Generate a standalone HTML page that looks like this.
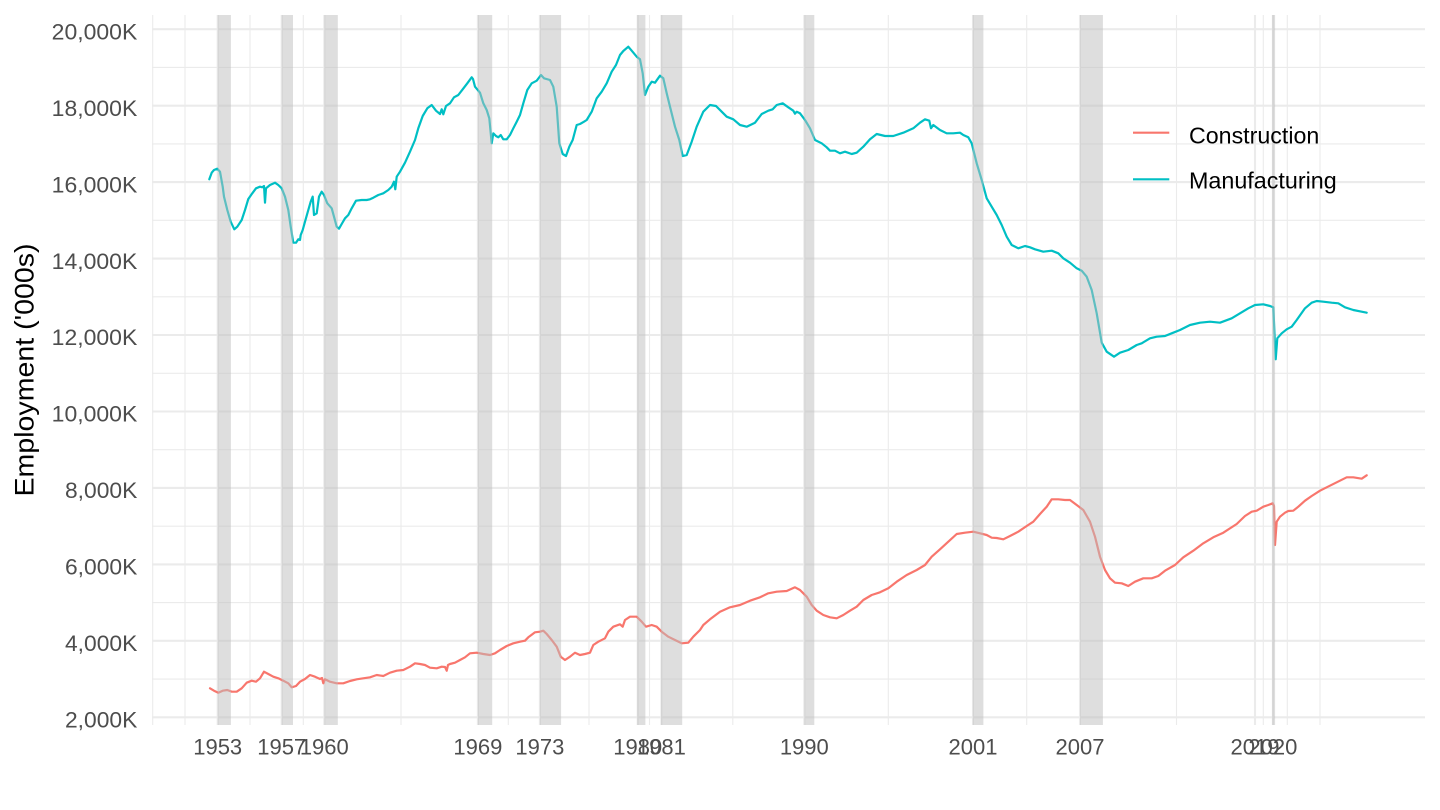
<!DOCTYPE html>
<html>
<head>
<meta charset="utf-8">
<style>
html,body{margin:0;padding:0;background:#fff;}
svg{display:block;}
text{font-family:"Liberation Sans",Arial,Helvetica,sans-serif;}
</style>
</head>
<body>
<svg width="1440" height="810" viewBox="0 0 1440 810" xmlns="http://www.w3.org/2000/svg">
<rect x="0" y="0" width="1440" height="810" fill="#ffffff"/>

<!-- minor horizontal gridlines -->
<g stroke="#EBEBEB" stroke-width="1.1" fill="none">
<line x1="152" x2="1425" y1="679.1" y2="679.1"/>
<line x1="152" x2="1425" y1="602.6" y2="602.6"/>
<line x1="152" x2="1425" y1="526.2" y2="526.2"/>
<line x1="152" x2="1425" y1="449.7" y2="449.7"/>
<line x1="152" x2="1425" y1="373.3" y2="373.3"/>
<line x1="152" x2="1425" y1="296.8" y2="296.8"/>
<line x1="152" x2="1425" y1="220.3" y2="220.3"/>
<line x1="152" x2="1425" y1="143.9" y2="143.9"/>
<line x1="152" x2="1425" y1="67.4" y2="67.4"/>
</g>
<!-- minor vertical gridlines -->
<g stroke="#EBEBEB" stroke-width="1.1" fill="none">
<line y1="15" y2="725" x1="152.7" x2="152.7"/>
<line y1="15" y2="725" x1="185" x2="185"/>
<line y1="15" y2="725" x1="250" x2="250"/>
<line y1="15" y2="725" x1="303.3" x2="303.3"/>
<line y1="15" y2="725" x1="401" x2="401"/>
<line y1="15" y2="725" x1="508.3" x2="508.3"/>
<line y1="15" y2="725" x1="589" x2="589"/>
<line y1="15" y2="725" x1="649.5" x2="649.5"/>
<line y1="15" y2="725" x1="732.8" x2="732.8"/>
<line y1="15" y2="725" x1="888.3" x2="888.3"/>
<line y1="15" y2="725" x1="1026.7" x2="1026.7"/>
<line y1="15" y2="725" x1="1176.5" x2="1176.5"/>
<line y1="15" y2="725" x1="1263.3" x2="1263.3"/>
<line y1="15" y2="725" x1="1287.3" x2="1287.3"/>
<line y1="15" y2="725" x1="1320" x2="1320"/>
</g>
<!-- major horizontal gridlines -->
<g stroke="#EBEBEB" stroke-width="2.1" fill="none">
<line x1="152" x2="1425" y1="717.3" y2="717.3"/>
<line x1="152" x2="1425" y1="640.8" y2="640.8"/>
<line x1="152" x2="1425" y1="564.4" y2="564.4"/>
<line x1="152" x2="1425" y1="487.9" y2="487.9"/>
<line x1="152" x2="1425" y1="411.5" y2="411.5"/>
<line x1="152" x2="1425" y1="335.0" y2="335.0"/>
<line x1="152" x2="1425" y1="258.6" y2="258.6"/>
<line x1="152" x2="1425" y1="182.1" y2="182.1"/>
<line x1="152" x2="1425" y1="105.7" y2="105.7"/>
<line x1="152" x2="1425" y1="29.2" y2="29.2"/>
</g>
<!-- major vertical gridlines -->
<g stroke="#EBEBEB" stroke-width="2.1" fill="none">
<line y1="15" y2="725" x1="217.7" x2="217.7"/>
<line y1="15" y2="725" x1="281.7" x2="281.7"/>
<line y1="15" y2="725" x1="324.3" x2="324.3"/>
<line y1="15" y2="725" x1="477.9" x2="477.9"/>
<line y1="15" y2="725" x1="539.9" x2="539.9"/>
<line y1="15" y2="725" x1="637.7" x2="637.7"/>
<line y1="15" y2="725" x1="661.4" x2="661.4"/>
<line y1="15" y2="725" x1="804.3" x2="804.3"/>
<line y1="15" y2="725" x1="973" x2="973"/>
<line y1="15" y2="725" x1="1080" x2="1080"/>
<line y1="15" y2="725" x1="1255" x2="1255"/>
<line y1="15" y2="725" x1="1272.9" x2="1272.9"/>
</g>

<!-- Manufacturing -->
<polyline fill="none" stroke="#00BFC4" stroke-width="2.2" stroke-linejoin="round" stroke-linecap="round" points="
209.3,179.3 211.7,172.7 214,170 217.3,168.7 220,171.7 222.7,186.7 224,196.7 227.3,210 230.7,221.7 234.3,229.3 237.3,226.7 241.7,220 245,210 248.3,199 252.3,193.3 256,188.3 260,186.7 262.3,187.3 264,186 265,202.7 266,188.3 270,185 275,182.7 278.3,185 281.7,188.3 285,196.7 288.3,210 290.7,226.7 293.3,242.7 296,242.7 298.3,239.3 300,240 300.7,235 302.7,230 305,221.7 308.3,210 310.7,201.7 312.7,196.7 314,215 316.7,213.3 319,196.7 321.7,191.7 324,195 327.3,203.3 331.7,208.3 334,216.7 336.7,226.7 339,228.7 341.7,224 345,218.3 348.3,215 351.7,208.3 356,200.7 361.7,200 366.7,200 370,199.3 373.3,197.7 378.3,195 383.3,193.3 388.3,190 391.7,186.7 394,181.7 395.3,189.3 396.7,176.7 400,171.7 405,162.7 410,151.7 415,140 418.3,128.3 422.7,116 427.3,108.3 431.7,105 436,110.7 440,114 441.7,109.3 443.3,114.3 446,106 450,103.3 454,97.3 458.3,95 462.7,89.3 467.3,83.3 471.7,77.3 473,79 475,86.7 480,92.7 483.3,103.3 486.7,110 489.3,118.3 491.7,143.3 493.3,133.3 496,136 498.3,137.3 500.7,135 503.3,139.3 506.7,139.3 510,135 513.3,128.3 516.7,121.7 520,115 523.3,103.3 527.3,90 531.7,83.3 536.7,80.7 541,75 544,78.3 550,80 553.3,86.7 556.7,106.7 559.3,143.3 562.7,154 566,156 569.3,146.7 572.7,140 576.7,125 580,124 584,121.7 586.7,120 591.7,111.7 596.7,98.3 601.7,91.7 606.7,83.3 611.7,71.7 616,65 620,55 623.3,51 628.3,46.7 631.7,50.7 636.7,56.7 640,59.3
642.7,73.3 645,95 648.3,86.7 651.7,81.7 655,82.7 660,75.7 663.3,78.3 666.7,93.3 670,106.7 675,126.7 679.3,140 682.7,156 686.7,155 691.7,141.7 696.7,126.7 703.3,111.7 710,105 716,106 721.7,111.7 726.7,116.7 733.3,119.3 740,125 746.7,126.7 755,122.7 761.7,114 768.3,110.7 772.7,109.3 776.7,105 782.7,103.3 788.3,107.3 793.3,110.7 795,113.7 796.7,111.7 800,113.3 805,120 810,128.3 815,140 821.7,143.3 826.7,147.3 830,150.7 835,150.7 840,153.3 845,151.7 851.7,154 856.7,152.7 863.3,146.7 870,139.3 876.7,134 885,136 893.3,136 903.3,132.7 913.3,128.3 920,122.7 925,119.3 929.3,120.7 931,128.3 933.3,125 940,130 946.7,133.3 953.3,133.3 960,132.7 963.3,135 968.3,137.3 971.7,143.3 976.7,163.3 981.7,180 986.7,198.3 991.7,206.7 996.7,215 1001.7,225 1006.7,236.7 1011.7,245 1018.3,248.3 1025,246 1030,247.3 1035,249.3 1043.3,251.7 1051.7,250.7 1058.3,253.3
1063.3,258.3 1070,262.7 1076.7,268.3 1081.7,270.7 1086.7,276.7 1091.7,290 1096.7,313.3 1101.7,342.7 1106.7,351.7 1114,356.7 1120,352.7 1128.3,350 1136.7,345 1141.7,343.3 1150,338.3 1156.7,336.7 1165,336 1171.7,333.3 1180,330 1190,325 1200,322.7 1210,321.7 1220,322.7 1231.7,318.3 1240,313.3 1248.3,308.3 1255,305 1263.3,304.3 1270,306 1273.3,307.3 1275.7,359.3 1277.3,338.3 1281.7,333.3 1286.7,329.3 1291.7,326.7 1296.7,320 1305,308.3 1311.7,302.7 1316.7,301 1323.3,301.7 1331.7,302.7 1338.3,303.3 1345,307.3 1353.3,310 1361.7,311.7 1366.7,312.7"/>

<!-- Construction -->
<polyline fill="none" stroke="#F8766D" stroke-width="2.2" stroke-linejoin="round" stroke-linecap="round" points="
210,688.3 214,690.7 218.3,692.7 222.7,690.7 227.3,690 231.7,691.7 236.7,691.7 241.7,688.3 246.7,682.7 251.7,680.7 256,681.7 260,678.3 264,671.7 268.3,674 273.3,676.7 278.3,678.3 283.3,680.7 288.3,683.3 291.7,687.3 296,686 300,681.7 305,679 310,675 315,676.7 320,679 322,678 323.3,683.3 325,679.3 330,681.7 336.7,683.3 343.3,683.3 350,681 356.7,679.3 363.3,678.3 370,677.3 376.7,675 383.3,676 390,672.7 396.7,670.7 403.3,670 410,666.7 415,663.3 420,664 425,665 430,667.7 436.7,668.3 441.7,666.7 445,667 446.7,670.7 448,665 450,664 455,662.7 460,660 465,657.3 470,653.3 476.7,652.7 483.3,654 490,655 495,653.3 500,650 506.7,646 513.3,643.3 520,641.7 525,640.7 528.3,637.3 535,632.3 540,631.7
543.3,630.7 546.7,634 551.7,640 556.7,646.7 560.7,656.7 565,660 570,656.7 575,652.7 580,655 585,654 590,652.7 593.3,645 598.3,641.7 605,638.3 608.3,631.7 613.3,626.7 620,624.3 622.7,626.7 625,620 630,616.7 636.7,616.7 641.7,621.7 646,626.7 651.7,625 656.7,626.7 661.7,631.7 668.3,636.7 675,640 681.7,643.3 688.3,642.7 693.3,636.7 700,630 703.3,625 710,619.3 720,611.7 730,607.3 740,605 750,600.7 760,597.3 768.3,593.3 776.7,591.7 786.7,591 795,587.3 800,590 806.7,596.7 811.7,605 816.7,610.7 823.3,615 830,617.3 836.7,618.3 843.3,615 850,610.7 856.7,606.7 863.3,600 871.7,595 880,592.3 888.3,588.3 896.7,581.7 906.7,575 916.7,570 925,565 931.7,556.7 940,549.3 948.3,541.7 956.7,534 965,532.7 973.3,531.7 980,533.3 986.7,535 991.7,537.7
996.7,538 1003.3,539.3 1010,536 1018.3,531.7 1026.7,526 1033.3,521.7 1040,514 1046.7,506.7 1051.7,499.3 1058.3,499.3 1065,500 1070,500 1076.7,505 1083.3,510 1090,521.7 1095,536.7 1100,556.7 1105,570 1110,578.3 1115,582.7 1121.7,583.3 1128.3,586 1135,581.7 1143.3,578.3 1151.7,578.3 1158.3,576 1165,570.7 1175,565 1183.3,557.3 1193.3,550.7 1203.3,543.3 1213.3,537.3 1223.3,532.7 1236.7,524 1245,516 1251.7,511.7 1256.7,510.7 1263.3,506.7 1268.3,505 1272.7,503.3 1274,506 1275,545 1276.7,521.7 1280,516.7 1285,512.7 1288.3,511 1293.3,510.7 1298.3,506.7 1305,500.7 1311.7,496 1320,490.7 1326.7,487.3 1336.7,482.3 1346.7,477.3 1353.3,477.3 1361.7,478.7 1366.7,475.3"/>

<!-- recession shading -->
<g fill="#BEBEBE" fill-opacity="0.5">
<rect x="217.7" y="15" width="13.2" height="710"/>
<rect x="281.7" y="15" width="11.3" height="710"/>
<rect x="324.3" y="15" width="13.5" height="710"/>
<rect x="477.9" y="15" width="14.3" height="710"/>
<rect x="539.9" y="15" width="21.2" height="710"/>
<rect x="637.2" y="15" width="8.2" height="710"/>
<rect x="661" y="15" width="21.2" height="710"/>
<rect x="804.3" y="15" width="10" height="710"/>
<rect x="972.8" y="15" width="10.6" height="710"/>
<rect x="1080" y="15" width="22.9" height="710"/>
<rect x="1272.2" y="15" width="2.9" height="710"/>
</g>

<!-- y axis labels -->
<g font-size="22" fill="#4D4D4D" text-anchor="end">
<text x="137.3" y="727.5" textLength="72.3" lengthAdjust="spacingAndGlyphs">2,000K</text>
<text x="137.3" y="651.0" textLength="72.3" lengthAdjust="spacingAndGlyphs">4,000K</text>
<text x="137.3" y="574.6" textLength="72.3" lengthAdjust="spacingAndGlyphs">6,000K</text>
<text x="137.3" y="498.1" textLength="72.3" lengthAdjust="spacingAndGlyphs">8,000K</text>
<text x="137.3" y="421.7" textLength="85.6" lengthAdjust="spacingAndGlyphs">10,000K</text>
<text x="137.3" y="345.2" textLength="85.6" lengthAdjust="spacingAndGlyphs">12,000K</text>
<text x="137.3" y="268.8" textLength="85.6" lengthAdjust="spacingAndGlyphs">14,000K</text>
<text x="137.3" y="192.3" textLength="85.6" lengthAdjust="spacingAndGlyphs">16,000K</text>
<text x="137.3" y="115.9" textLength="85.6" lengthAdjust="spacingAndGlyphs">18,000K</text>
<text x="137.3" y="39.4" textLength="85.6" lengthAdjust="spacingAndGlyphs">20,000K</text>
</g>

<!-- x axis labels -->
<g font-size="22" fill="#4D4D4D" text-anchor="middle">
<text x="217.7" y="754.3">1953</text>
<text x="281.7" y="754.3">1957</text>
<text x="324.3" y="754.3">1960</text>
<text x="477.9" y="754.3">1969</text>
<text x="539.9" y="754.3">1973</text>
<text x="637.7" y="754.3">1980</text>
<text x="661.4" y="754.3">1981</text>
<text x="804.3" y="754.3">1990</text>
<text x="973" y="754.3">2001</text>
<text x="1080" y="754.3">2007</text>
<text x="1255" y="754.3">2019</text>
<text x="1272.9" y="754.3">2020</text>
</g>

<!-- y axis title -->
<text transform="translate(33.3,370) rotate(-90)" font-size="27" fill="#000" text-anchor="middle" textLength="253" lengthAdjust="spacingAndGlyphs">Employment ('000s)</text>

<!-- legend -->
<line x1="1133" x2="1169.3" y1="132.7" y2="132.7" stroke="#F8766D" stroke-width="2.2"/>
<line x1="1133" x2="1169.3" y1="179.3" y2="179.3" stroke="#00BFC4" stroke-width="2.2"/>
<text x="1189" y="143.3" font-size="23.5" fill="#000" textLength="130.3" lengthAdjust="spacingAndGlyphs">Construction</text>
<text x="1189" y="188.6" font-size="23.5" fill="#000" textLength="147.7" lengthAdjust="spacingAndGlyphs">Manufacturing</text>
</svg>
</body>
</html>
